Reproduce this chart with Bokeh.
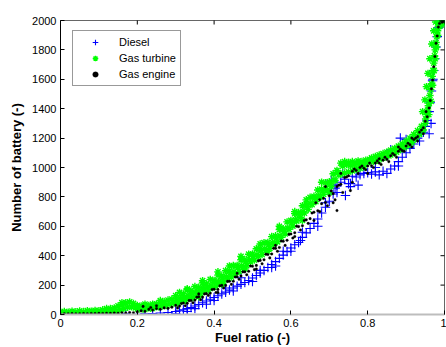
import math
from bokeh.plotting import figure
from bokeh.models import FixedTicker, Range1d, Legend, LegendItem
from bokeh.embed import file_html
from bokeh.resources import INLINE

# ---------------- data ----------------
x_ticks = [0, 0.2, 0.4, 0.6, 0.8, 1]
x_tick_labels = ["0", "0.2", "0.4", "0.6", "0.8", "1"]
y_ticks = [0, 200, 400, 600, 800, 1000, 1200, 1400, 1600, 1800, 2000]

# Gas turbine (green asterisks)
gt_x = [
    0.00, 0.01, 0.02, 0.03, 0.04, 0.05, 0.06, 0.07, 0.08, 0.09, 0.10, 0.11, 0.12, 0.13, 0.14,
    0.15, 0.16, 0.17, 0.18, 0.19, 0.20, 0.21, 0.22, 0.23, 0.24, 0.25, 0.26, 0.27, 0.28, 0.29,
    0.005, 0.015, 0.025, 0.035, 0.045, 0.055, 0.065, 0.075, 0.085, 0.095, 0.105, 0.115, 0.125, 0.135, 0.145,
    0.155, 0.165, 0.175, 0.185, 0.195, 0.205, 0.215, 0.225, 0.235, 0.245, 0.255, 0.265, 0.275, 0.285, 0.295,
    0.30, 0.31, 0.32, 0.33, 0.34, 0.35, 0.36, 0.37, 0.38, 0.39, 0.40, 0.41, 0.42, 0.43, 0.44,
    0.45, 0.46, 0.47, 0.48, 0.49, 0.50, 0.51, 0.52, 0.53, 0.54, 0.55, 0.56, 0.57, 0.58, 0.59,
    0.60, 0.61, 0.62, 0.63, 0.64, 0.65, 0.66, 0.67, 0.68, 0.69, 0.70, 0.71, 0.72,
    0.302, 0.312, 0.322, 0.332, 0.342, 0.352, 0.362, 0.372, 0.382, 0.392, 0.402, 0.412, 0.422, 0.432, 0.442,
    0.452, 0.462, 0.472, 0.482, 0.492, 0.502, 0.512, 0.522, 0.532, 0.542, 0.552, 0.562, 0.572, 0.582, 0.592,
    0.602, 0.612, 0.622, 0.632, 0.642, 0.652, 0.662, 0.672, 0.682, 0.692, 0.702, 0.712, 0.722,
    0.305, 0.315, 0.325, 0.335, 0.345, 0.355, 0.365, 0.375, 0.385, 0.395, 0.405, 0.415, 0.425, 0.435, 0.445,
    0.455, 0.465, 0.475, 0.485, 0.495, 0.505, 0.515, 0.525, 0.535, 0.545, 0.555, 0.565, 0.575, 0.585, 0.595,
    0.605, 0.615, 0.625, 0.635, 0.645, 0.655, 0.665, 0.675, 0.685, 0.695, 0.705, 0.715, 0.725,
    0.73, 0.735, 0.74, 0.745, 0.75, 0.755, 0.76, 0.765, 0.77, 0.775, 0.78, 0.785, 0.79, 0.795, 0.80, 0.805,
    0.73, 0.74, 0.75, 0.76, 0.77, 0.78, 0.79,
    0.81, 0.815, 0.82, 0.825, 0.83, 0.835, 0.84, 0.845, 0.85, 0.855, 0.86, 0.865, 0.87, 0.875, 0.88,
    0.885, 0.89, 0.895, 0.90, 0.905, 0.91, 0.915, 0.92, 0.925, 0.93, 0.935, 0.94, 0.945, 0.95,
    0.951, 0.954, 0.956, 0.958, 0.960, 0.962, 0.964, 0.966, 0.968, 0.970, 0.972, 0.974, 0.976, 0.978,
    0.980, 0.982, 0.984, 0.986, 0.988, 0.990, 0.992, 0.994, 0.996, 0.998, 1.0,
    0.943, 0.949, 0.953, 0.957, 0.962, 0.967, 0.972, 0.977,
    0.959, 0.965, 0.969, 0.973, 0.976, 0.979, 0.982, 0.987,
    0.33, 0.37, 0.41, 0.44, 0.47, 0.52, 0.57, 0.61, 0.64, 0.68,
    0.36, 0.42, 0.48, 0.54, 0.63, 0.70, 0.22, 0.26, 0.16, 0.12,
]
gt_y = [
    18, 20, 16, 22, 18, 24, 20, 26, 22, 28, 26, 32, 30, 40, 45,
    58, 65, 80, 85, 75, 62, 58, 60, 62, 70, 72, 82, 88, 98, 105,
    4, 6, 3, 7, 5, 8, 6, 9, 8, 10, 12, 14, 15, 20, 25,
    32, 40, 50, 52, 45, 38, 35, 40, 42, 48, 52, 58, 62, 70, 78,
    128, 150, 140, 168, 160, 190, 185, 215, 208, 238, 232, 268, 262, 298, 296,
    333, 334, 372, 374, 410, 412, 447, 450, 488, 490, 530, 535, 578, 584, 630,
    640, 686, 694, 740, 750, 797, 804, 847, 853, 897, 903, 957, 980,
    96, 112, 116, 128, 143, 150, 162, 180, 186, 200, 218, 226, 248, 258, 282,
    292, 318, 330, 358, 372, 396, 406, 434, 446, 474, 488, 520, 535, 568, 588,
    624, 644, 680, 700, 736, 756, 790, 806, 840, 856, 890, 916, 965,
    78, 90, 95, 110, 116, 133, 140, 160, 166, 183, 192, 212, 222, 244, 255,
    275, 292, 318, 333, 358, 370, 395, 408, 435, 450, 478, 495, 525, 548, 580,
    602, 636, 660, 690, 715, 748, 768, 798, 818, 848, 872, 912, 950,
    1030, 1010, 1040, 1020, 1035, 1015, 1040, 1020, 1030, 1045, 1025, 1040, 1030, 1050, 1035, 1055,
    955, 962, 970, 978, 988, 995, 1005,
    1065, 1040, 1075, 1050, 1085, 1060, 1095, 1070, 1105, 1080, 1118, 1092, 1130, 1105, 1145,
    1120, 1160, 1135, 1180, 1150, 1200, 1170, 1225, 1195, 1250, 1225, 1280, 1255, 1300,
    1330, 1360, 1390, 1420, 1450, 1490, 1530, 1570, 1620, 1660, 1710, 1760, 1800, 1850,
    1890, 1930, 1960, 1985, 1995, 1980, 2000, 1990, 1975, 1995, 1990,
    1380, 1460, 1550, 1640, 1740, 1840, 1930, 1990,
    1360, 1450, 1560, 1660, 1740, 1820, 1900, 1960,
    175, 230, 290, 330, 395, 480, 600, 700, 780, 900,
    120, 205, 310, 430, 640, 830, 70, 95, 80, 40,
]

# Gas engine (black dots)
ge_x = [
    0.00, 0.01, 0.02, 0.03, 0.04, 0.05, 0.06, 0.07, 0.08, 0.09, 0.10, 0.11, 0.12, 0.13, 0.14,
    0.15, 0.16, 0.17, 0.18, 0.19,
    0.20, 0.21, 0.22, 0.23, 0.24, 0.25, 0.26, 0.27, 0.28, 0.29, 0.215, 0.235, 0.25,
    0.30, 0.31, 0.32, 0.33, 0.34, 0.35, 0.36, 0.37, 0.38, 0.39, 0.40, 0.41, 0.42, 0.43, 0.44,
    0.45, 0.46, 0.47, 0.48, 0.49, 0.50, 0.51, 0.52, 0.53, 0.54, 0.55, 0.56, 0.57, 0.58, 0.59,
    0.60, 0.61, 0.62, 0.63, 0.64, 0.65, 0.66, 0.67, 0.68, 0.69, 0.70, 0.71, 0.72, 0.73, 0.74,
    0.75, 0.76, 0.77, 0.78, 0.79, 0.80, 0.81, 0.82, 0.83, 0.84, 0.85, 0.86, 0.87, 0.88, 0.89,
    0.90, 0.91, 0.92, 0.93, 0.94, 0.945, 0.95, 0.955, 0.96, 0.963, 0.966, 0.969, 0.972, 0.975,
    0.978, 0.981, 0.984, 0.987, 0.99, 0.994, 0.997, 1.0,
    0.305, 0.315, 0.325, 0.335, 0.345, 0.355, 0.365, 0.375, 0.385, 0.395, 0.405, 0.415, 0.425,
    0.435, 0.445, 0.455, 0.465, 0.475, 0.485, 0.495, 0.505, 0.515, 0.525, 0.535, 0.545, 0.555,
    0.565, 0.575, 0.585, 0.595, 0.605, 0.615, 0.625, 0.635, 0.645, 0.655, 0.665, 0.675, 0.685,
    0.695, 0.705, 0.715, 0.725, 0.735, 0.745, 0.755, 0.765, 0.775, 0.785, 0.795, 0.805, 0.815,
    0.825, 0.835, 0.845, 0.855, 0.865, 0.875, 0.885, 0.895, 0.905, 0.915, 0.925, 0.935, 0.945,
    0.952,
    0.36, 0.41, 0.46, 0.51, 0.56, 0.61, 0.66, 0.675, 0.69, 0.71, 0.72, 0.73, 0.76, 0.80,
    0.83, 0.88, 0.915, 0.93,
]
ge_y = [
    3, 5, 4, 6, 4, 5, 6, 5, 7, 6, 8, 7, 9, 8, 10,
    9, 12, 10, 14, 12,
    18, 25, 22, 35, 30, 40, 35, 45, 42, 50, 55, 48, 60,
    62, 58, 78, 76, 95, 98, 120, 118, 142, 145, 172, 170, 198, 198, 226,
    226, 256, 262, 290, 294, 328, 334, 368, 372, 408, 412, 450, 456, 498, 505,
    548, 556, 598, 604, 644, 652, 696, 706, 753, 762, 808, 822, 870, 886, 932,
    944, 974, 980, 1000, 995, 1010, 1012, 1030, 1030, 1050, 1055, 1080, 1085, 1110, 1115,
    1146, 1155, 1190, 1210, 1255, 1270, 1315, 1345, 1405, 1455, 1535, 1595, 1685, 1755,
    1845, 1895, 1955, 1980, 2000, 1988, 2000, 1992,
    45, 75, 60, 95, 80, 118, 100, 140, 130, 170, 150, 195, 180,
    225, 205, 255, 240, 290, 270, 330, 305, 365, 345, 410, 385, 450,
    430, 500, 470, 545, 520, 600, 575, 640, 620, 690, 760, 700, 790,
    740, 840, 780, 880, 830, 935, 843, 990, 960, 1010, 985, 1030, 1000,
    1045, 1020, 1070, 1040, 1095, 1070, 1125, 1110, 1165, 1140, 1200, 1240, 1230,
    1380,
    140, 150, 280, 310, 470, 530, 640, 780, 870, 760, 707, 960, 900, 960,
    1060, 1140, 1200, 1180,
]

# Diesel (blue crosses)
di_x = [
    0.02, 0.05, 0.08, 0.11, 0.14, 0.17, 0.20, 0.22, 0.24, 0.26, 0.28, 0.30, 0.31, 0.32, 0.33,
    0.34, 0.35, 0.36, 0.37, 0.38, 0.39, 0.40, 0.41, 0.42, 0.43, 0.44, 0.45, 0.46, 0.47, 0.48,
    0.49, 0.50, 0.51, 0.52, 0.53, 0.54, 0.55, 0.56, 0.57, 0.58, 0.59, 0.60, 0.61, 0.62, 0.625,
    0.63, 0.64, 0.65, 0.66, 0.67, 0.68, 0.69, 0.70, 0.705, 0.71, 0.715, 0.72, 0.73, 0.74, 0.75,
    0.755, 0.76, 0.77, 0.78, 0.79, 0.80, 0.81, 0.82, 0.83, 0.84, 0.85, 0.86, 0.87, 0.88, 0.89,
    0.90, 0.91, 0.92, 0.93, 0.94, 0.95, 0.955, 0.96, 0.963, 0.966, 0.969, 0.972, 0.975, 0.978,
    0.981, 0.984, 0.988, 0.992, 0.996, 1.0,
    0.86, 0.885, 0.90, 0.945, 0.96, 0.965, 0.742, 0.755,
    0.35, 0.40, 0.45, 0.50, 0.55, 0.60,
    0.38, 0.43, 0.47, 0.52, 0.56, 0.58, 0.63, 0.67, 0.69, 0.72, 0.735, 0.775, 0.82, 0.88,
    0.92, 0.935, 0.97, 0.30, 0.33,
]
di_y = [
    0, 2, 0, 3, 1, 4, 2, 5, 6, 10, 14, 20, 26, 32, 40,
    48, 58, 68, 80, 92, 104, 116, 128, 140, 152, 166, 180, 193, 205, 218,
    231, 248, 265, 282, 300, 320, 340, 360, 382, 404, 428, 452, 475, 490, 503,
    525, 555, 585, 620, 650, 690, 730, 770, 912, 820, 860, 880, 900, 920, 890,
    870, 940, 935, 950, 960, 965, 955, 970, 950, 975, 960, 990, 1010, 1040, 1070,
    1100, 1130, 1160, 1200, 1240, 1280, 1320, 1380, 1440, 1520, 1590, 1660, 1740, 1820,
    1890, 1950, 1990, 2000, 1985, 1995,
    1120, 1200, 1190, 1240, 1230, 1300, 810, 891,
    40, 95, 160, 225, 320, 430,
    70, 180, 250, 300, 330, 430, 560, 600, 760, 830, 960, 880, 1000, 1010,
    1190, 1180, 1600, 5, 20,
]

# ---------------- figure ----------------
FONT = "Liberation Sans"

p = figure(width=446, height=347, output_backend="svg", toolbar_location=None,
           x_range=Range1d(0, 1), y_range=Range1d(0, 2000),
           min_border_left=60, min_border_right=2, min_border_top=20, min_border_bottom=33,
           background_fill_color="white", border_fill_color="white")
p.xgrid.visible = False
p.ygrid.visible = False
p.outline_line_color = "#666666"

r_di = p.scatter(di_x, di_y, marker="cross", size=9.5, line_color="#0000ff", line_width=1.1)
r_gt = p.scatter(gt_x, gt_y, marker="asterisk", size=7.5, line_color="#00ff00", line_width=1.4)
r_ge = p.scatter(ge_x, ge_y, marker="circle", size=2.6, line_color="black", fill_color="black", line_width=0.3)

# inward tick marks on the top and right edges of the box (half clipped by the frame)
p.scatter(x_ticks, [2000] * len(x_ticks), marker="dash", angle=math.pi / 2, size=8,
          line_color="black", line_width=1)
p.scatter([1] * len(y_ticks), y_ticks, marker="dash", size=8, line_color="black", line_width=1)

for ax in (p.xaxis[0], p.yaxis[0]):
    ax.major_tick_in = 4
    ax.major_tick_out = 0
    ax.minor_tick_line_color = None
    ax.major_label_text_font = FONT
    ax.major_label_text_font_size = "11px"
    ax.major_label_text_color = "black"
    ax.axis_label_text_font = FONT
    ax.axis_label_text_font_size = "13px"
    ax.axis_label_text_font_style = "bold"
    ax.axis_label_text_color = "black"
    ax.major_tick_line_color = "black"

p.xaxis.ticker = FixedTicker(ticks=x_ticks)
p.xaxis.major_label_overrides = dict(zip(x_ticks, x_tick_labels))
p.xaxis.axis_label = "Fuel ratio (-)"
p.xaxis.major_label_standoff = 4
p.xaxis.axis_label_standoff = 0
p.xaxis.axis_line_color = "#bdbdbd"
p.xaxis.axis_line_width = 2

p.yaxis.ticker = FixedTicker(ticks=y_ticks)
p.yaxis.axis_label = "Number of battery (-)"
p.yaxis.major_label_standoff = 4
p.yaxis.axis_label_standoff = 5
p.yaxis.axis_line_color = "black"

legend = Legend(items=[LegendItem(label="Diesel", renderers=[r_di]),
                       LegendItem(label="Gas turbine", renderers=[r_gt]),
                       LegendItem(label="Gas engine", renderers=[r_ge])],
                location=(12, 228), margin=0, padding=4, spacing=2,
                label_height=14, glyph_height=14, glyph_width=36, label_standoff=6,
                label_text_font=FONT, label_text_font_size="11px", label_text_color="black",
                border_line_color="#333333", border_line_width=1,
                background_fill_color="white", background_fill_alpha=1)
p.add_layout(legend)

open("out.html", "w").write(file_html(p, INLINE))
